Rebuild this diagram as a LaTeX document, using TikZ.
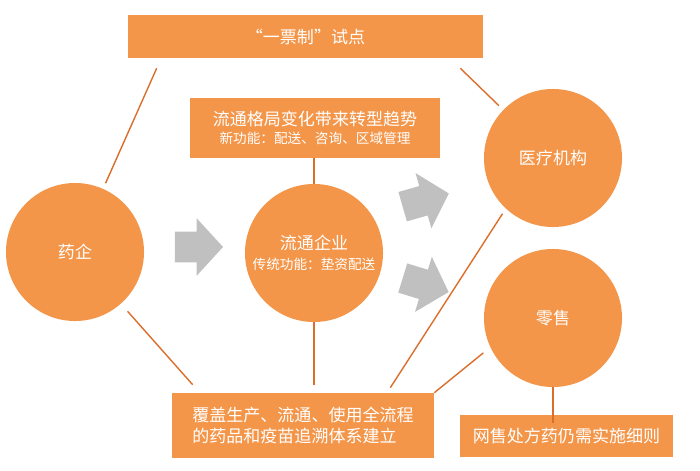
\documentclass[tikz,border=0pt]{standalone}
\usepackage{fontspec}
\setmainfont{Noto Sans CJK SC}
\usetikzlibrary{shapes.arrows, calc}
\definecolor{naranjaCaja}{HTML}{F4964A}
\definecolor{naranjaLinea}{HTML}{DC6E2C}
\definecolor{grisFlecha}{HTML}{C0C0C0}
\newcommand{\textoChico}{\fontsize{9.7}{12}\selectfont}
\tikzset{
  cajaBase/.style={
    fill=naranjaCaja, draw=none, inner sep=0pt,
    align=center, text=white,
    font=\fontsize{12.1}{14.2}\selectfont
  },
  cajaNaranja/.style={cajaBase, rectangle},
  circuloNaranja/.style={cajaBase, circle, minimum size=3.45cm},
  flechaGris/.style={
    single arrow, fill=grisFlecha, inner xsep=0pt, inner ysep=0.375cm,
    minimum height=1.2cm,
    single arrow head extend=0.3375cm, single arrow tip angle=95
  },
  linea/.style={naranjaLinea, line width=1pt},
}

\begin{document}
\begin{tikzpicture}[x=0.025cm, y=-0.025cm]
  \useasboundingbox (0,0) rectangle (700,470);
  % cajas
  \node[cajaNaranja, minimum width=8.875cm, minimum height=1.075cm] (yipiao) at (305.5,36.5) {“一票制”试点};
  \node[cajaNaranja, minimum width=6.25cm, minimum height=1.5cm] (geju) at (315,128)
    {流通格局变化带来转型趋势\\[-1pt]{\textoChico 新功能：配送、咨询、区域管理}};
  \node[cajaNaranja, minimum width=6.55cm, minimum height=1.625cm, align=left] (zhuisu) at (303,425.5)
    {覆盖生产、流通、使用全流程\\[1pt]的药品和疫苗追溯体系建立};
  \node[cajaNaranja, minimum width=5.325cm, minimum height=1.05cm] (wangshou) at (566.5,436) {网售处方药仍需实施细则};
  % circulos
  \node[circuloNaranja] (yaoqi) at (75,252) {药企};
  \node[circuloNaranja] (liutong) at (314,253)
    {流通企业\\[0pt]{\textoChico 传统功能：垫资配送}};
  \node[circuloNaranja] (yiliao) at (553,158) {医疗机构};
  \node[circuloNaranja] (lingshou) at (553,318) {零售};
  % flechas
  \node[flechaGris] (flecha1) at (192,247) {};
  \node[flechaGris, rotate=16] (flecha2) at (419,202) {};
  \node[flechaGris, rotate=-17] (flecha3) at (419,283) {};
  % lineas
  \draw[linea, shorten >=0.15cm] ([shift={(29,10)}]yipiao.south west) -- (yaoqi);
  \draw[linea, shorten >=0.15cm] ([shift={(-23,10)}]yipiao.south east) -- (yiliao);
  \draw[linea] (liutong.north |- geju.south) -- (liutong.north);
  \draw[linea, shorten >=0.25cm] ([shift={(21,-8)}]zhuisu.north west) -- (yaoqi);
  \draw[linea, shorten >=0.2cm] (liutong.south) -- (liutong.south |- zhuisu.north);
  \draw[linea, shorten <=0.15cm] (yiliao.227) -- ([shift={(-44,-5)}]zhuisu.north east);
  \draw[linea, shorten <=0.22cm] (lingshou.205) -- (zhuisu.north east);
  \draw[linea] (lingshou.south) -- ([yshift=-0.2cm]lingshou.south |- wangshou.north);
\end{tikzpicture}
\end{document}
